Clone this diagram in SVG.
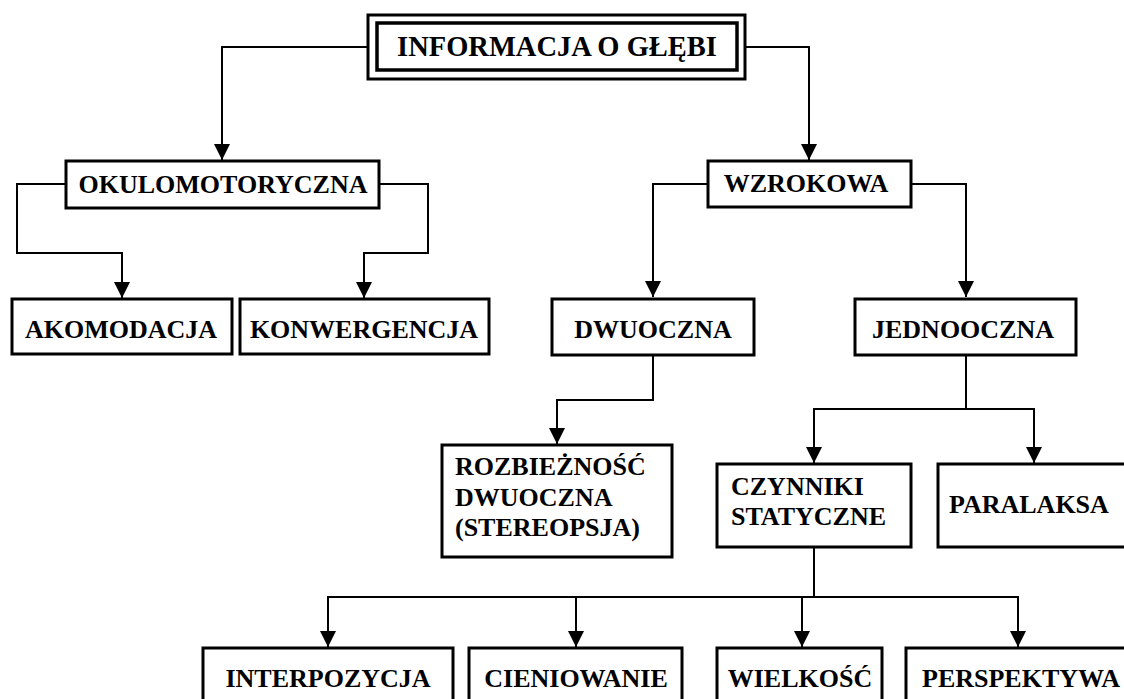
<svg xmlns="http://www.w3.org/2000/svg" width="1124" height="699" viewBox="0 0 1124 699">
<style>
.box{fill:#fff;stroke:#000;stroke-width:3}
.t{font-family:"Liberation Serif","Times New Roman",serif;font-weight:bold;font-size:26px;fill:#000}
.c{text-anchor:middle}
.con{fill:none;stroke:#000;stroke-width:2}
</style>
<defs>
<marker id="arr" markerUnits="userSpaceOnUse" markerWidth="18" markerHeight="18" viewBox="0 0 18 18" refX="16" refY="8" orient="auto">
<path d="M0,0 L16,8 L0,16 Z" fill="#000"/>
</marker>
</defs>
<rect width="1124" height="699" fill="#fff"/>
<g id="connectors">
<path class="con" d="M368,47 H222 V160" marker-end="url(#arr)"/>
<path class="con" d="M745,47 H809 V160" marker-end="url(#arr)"/>
<path class="con" d="M66,184 H17 V253 H122 V298" marker-end="url(#arr)"/>
<path class="con" d="M379,184 H428 V253 H364 V298" marker-end="url(#arr)"/>
<path class="con" d="M708,184 H653 V297" marker-end="url(#arr)"/>
<path class="con" d="M911,184 H966 V297" marker-end="url(#arr)"/>
<path class="con" d="M653,355 V400 H557 V444" marker-end="url(#arr)"/>
<path class="con" d="M966,355 V409 H814 V463" marker-end="url(#arr)"/>
<path class="con" d="M966,409 H1034 V463" marker-end="url(#arr)"/>
<path class="con" d="M814,547 V597 H328 V647" marker-end="url(#arr)"/>
<path class="con" d="M576,597 V647" marker-end="url(#arr)"/>
<path class="con" d="M802,597 V647" marker-end="url(#arr)"/>
<path class="con" d="M814,597 H1018 V647" marker-end="url(#arr)"/>
</g>
<g id="n-informacja">
<rect class="box" x="368" y="15" width="377" height="64"/>
<rect class="box" x="377" y="23" width="360" height="47" style="stroke-width:3.5"/>
<text class="t c" x="557" y="56" style="font-size:28.5px">INFORMACJA O GŁĘBI</text>
</g>
<g id="n-okulomotoryczna">
<rect class="box" x="66" y="161" width="313" height="47"/>
<text class="t c" x="223" y="193">OKULOMOTORYCZNA</text>
</g>
<g id="n-wzrokowa">
<rect class="box" x="708" y="161" width="203" height="46"/>
<text class="t c" x="806" y="192">WZROKOWA</text>
</g>
<g id="n-akomodacja">
<rect class="box" x="12" y="299" width="220" height="55"/>
<text class="t c" x="121" y="338">AKOMODACJA</text>
</g>
<g id="n-konwergencja">
<rect class="box" x="240" y="299" width="249" height="55"/>
<text class="t c" x="364" y="338">KONWERGENCJA</text>
</g>
<g id="n-dwuoczna">
<rect class="box" x="552" y="299" width="202" height="56"/>
<text class="t c" x="653" y="338">DWUOCZNA</text>
</g>
<g id="n-jednooczna">
<rect class="box" x="855" y="299" width="221" height="56"/>
<text class="t c" x="963" y="338">JEDNOOCZNA</text>
</g>
<g id="n-rozbieznosc">
<rect class="box" x="442" y="445" width="230" height="112"/>
<text class="t" x="455" y="475">ROZBIEŻNOŚĆ</text>
<text class="t" x="455" y="506">DWUOCZNA</text>
<text class="t" x="455" y="536">(STEREOPSJA)</text>
</g>
<g id="n-czynniki">
<rect class="box" x="717" y="464" width="194" height="83"/>
<text class="t" x="731" y="495">CZYNNIKI</text>
<text class="t" x="731" y="525">STATYCZNE</text>
</g>
<g id="n-paralaksa">
<rect class="box" x="938" y="464" width="200" height="83"/>
<text class="t" x="949" y="513">PARALAKSA</text>
</g>
<g id="n-interpozycja">
<rect class="box" x="203" y="648" width="250" height="62"/>
<text class="t c" x="328" y="687">INTERPOZYCJA</text>
</g>
<g id="n-cieniowanie">
<rect class="box" x="469" y="648" width="213" height="62"/>
<text class="t c" x="576" y="687">CIENIOWANIE</text>
</g>
<g id="n-wielkosc">
<rect class="box" x="717" y="648" width="165" height="62"/>
<text class="t c" x="800" y="687">WIELKOŚĆ</text>
</g>
<g id="n-perspektywa">
<rect class="box" x="906" y="648" width="230" height="62"/>
<text class="t" x="922" y="687">PERSPEKTYWA</text>
</g>
</svg>
